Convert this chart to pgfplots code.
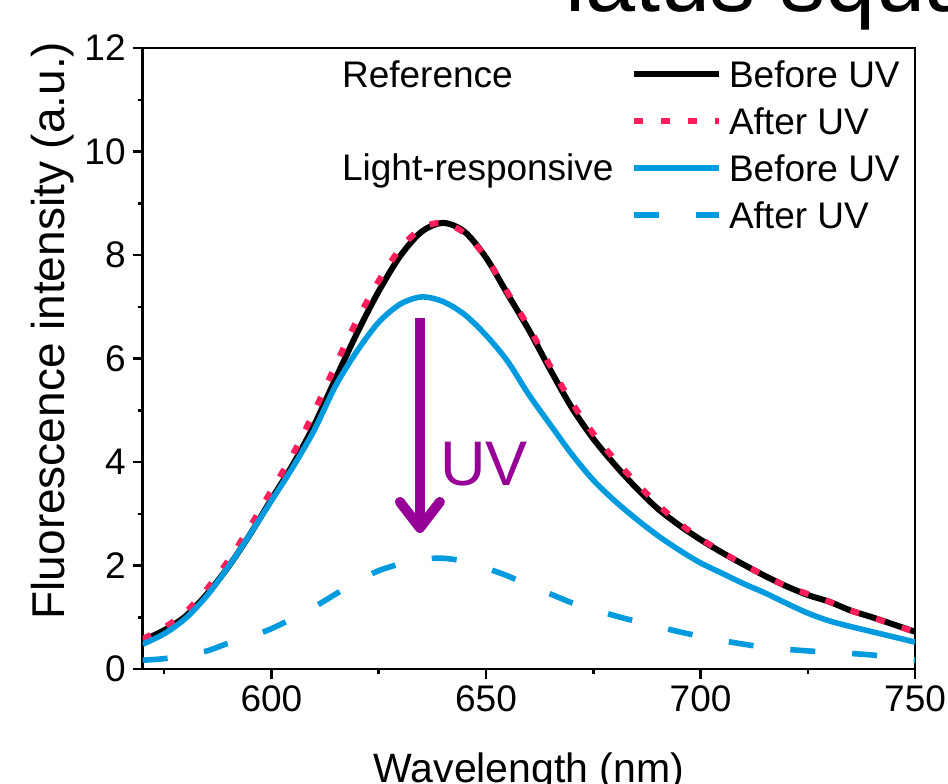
\documentclass[border=0pt]{standalone}
\usepackage{fontspec}
\setmainfont{Liberation Sans}
\usepackage{pgfplots}
\pgfplotsset{compat=1.18}
\usetikzlibrary{arrows.meta}
\definecolor{refpink}{RGB}{255,30,90}
\definecolor{lrblue}{RGB}{0,155,222}
\definecolor{uvpurple}{RGB}{150,0,150}

\begin{document}
\begin{tikzpicture}
\begin{axis}[
    scale only axis, width=386.2pt, height=310.5pt,
    xmin=570, xmax=750, ymin=0, ymax=12,
    xtick={600,650,700,750}, minor xtick={575,625,675,725},
    ytick={0,2,...,12}, minor ytick={1,3,...,11},
    xtick pos=bottom, ytick pos=left, tick align=outside,
    major tick length=5pt, minor tick length=2.5pt,
    axis line style={line width=1.25pt},
    tick style={black, line width=1.25pt},
    ticklabel style={font=\fontsize{18.5}{20}\selectfont},
    /pgf/number format/assume math mode=true,
    xlabel={Wavelength (nm)},
    xlabel style={font=\fontsize{20.5}{22}\selectfont, at={(axis description cs:0.5,-0.182)}, anchor=base},
    ylabel={Fluorescence intensity (a.u.)},
    ylabel style={font=\fontsize{23}{25}\selectfont, at={(axis description cs:-0.101,0.545)}, anchor=base},
    legend style={at={(axis description cs:0.6322,0.9796)}, anchor=north west,
        draw=none, fill=none, inner sep=0pt, outer sep=0pt,
        font=\fontsize{18.5}{20}\selectfont, row sep=10.2pt, column sep=3.5pt,
        nodes={inner sep=0pt, text height=13.3pt, text depth=0pt}},
    legend cell align=left,
    legend image code/.code={\draw[#1] (0pt,0pt) -- (42.5pt,0pt);},
]
% Reference, before UV
\addplot[black, line width=3pt, smooth] coordinates {
(570,0.55) (575,0.75) (580,1.02) (585,1.45) (590,1.98) (595,2.6) (600,3.28)
(605,3.95) (610,4.72) (615,5.62) (620,6.5) (625,7.3) (630,7.98) (635,8.45)
(640,8.62) (645,8.45) (650,7.95) (655,7.25) (660,6.55) (665,5.78) (670,5.05)
(675,4.45) (680,3.95) (685,3.5) (690,3.1) (695,2.78) (700,2.5) (705,2.25)
(710,2.02) (715,1.8) (720,1.6) (725,1.43) (730,1.3) (735,1.13) (740,1.0)
(745,0.86) (750,0.72)
};
\addlegendentry{Before UV}
% Reference, after UV
\addplot[refpink, line width=3pt, dash pattern=on 4.5pt off 9pt, smooth] coordinates {
(570,0.58) (575,0.8) (580,1.1) (585,1.55) (590,2.1) (595,2.75) (600,3.45)
(605,4.15) (610,4.98) (615,5.88) (620,6.75) (625,7.5) (630,8.12) (635,8.52)
(640,8.62) (645,8.42) (650,7.95) (655,7.28) (660,6.6) (665,5.85) (670,5.15)
(675,4.55) (680,4.05) (685,3.6) (690,3.18) (695,2.82) (700,2.52) (705,2.26)
(710,2.02) (715,1.8) (720,1.6) (725,1.45) (730,1.3) (735,1.13) (740,1.0)
(745,0.85) (750,0.72)
};
\addlegendentry{After UV}
% Light-responsive, before UV
\addplot[lrblue, line width=2.8pt, smooth] coordinates {
(570,0.48) (575,0.68) (580,0.98) (585,1.42) (590,1.98) (595,2.6) (600,3.25)
(605,3.9) (610,4.62) (615,5.48) (620,6.15) (625,6.7) (630,7.05) (635,7.19)
(640,7.1) (645,6.85) (650,6.45) (655,5.95) (660,5.3) (665,4.72) (670,4.15)
(675,3.65) (680,3.25) (685,2.9) (690,2.58) (695,2.3) (700,2.05) (705,1.85)
(710,1.65) (715,1.47) (720,1.27) (725,1.08) (730,0.93) (735,0.82) (740,0.72)
(745,0.62) (750,0.52)
};
\addlegendentry{Before UV}
% Light-responsive, after UV
\addplot[lrblue, line width=2.8pt, dash pattern=on 12.5pt off 18.5pt, smooth] coordinates {
(570,0.17) (575,0.2) (580,0.27) (585,0.35) (590,0.5) (595,0.62) (600,0.78)
(605,0.98) (610,1.2) (615,1.45) (620,1.7) (625,1.9) (630,2.03) (635,2.12)
(640,2.14) (645,2.08) (650,1.95) (655,1.8) (660,1.62) (665,1.45) (670,1.28)
(675,1.15) (680,1.03) (685,0.92) (690,0.82) (695,0.72) (700,0.63) (705,0.55)
(710,0.48) (715,0.42) (720,0.38) (725,0.35) (730,0.32) (735,0.3) (740,0.27)
(745,0.22) (750,0.17)
};
\addlegendentry{After UV}

\draw[uvpurple, line width=5pt, -{Straight Barb[length=13pt, width=20pt, round]}]
    (axis cs:634.6,6.78) -- (axis cs:634.6,2.63);
\node[text=uvpurple, font=\fontsize{31.5}{34}\selectfont, anchor=base west, inner sep=0pt]
    at (axis cs:639.2,3.54) {UV};
\end{axis}

\node[anchor=base west, inner sep=0pt, font=\fontsize{18.5}{20}\selectfont] at (99.5pt,290.5pt) {Reference};
\node[anchor=base west, inner sep=0pt, font=\fontsize{18.5}{20}\selectfont] at (99.5pt,244.35pt) {Light-responsive};
\node[anchor=base west, inner sep=0pt, font=\fontsize{45}{50}\selectfont] at (211.15pt,328.5pt) {latus squa};

\pgfresetboundingbox
\path[use as bounding box] (-71.35pt,-57pt) rectangle (402.65pt,334.5pt);
\end{tikzpicture}
\end{document}
